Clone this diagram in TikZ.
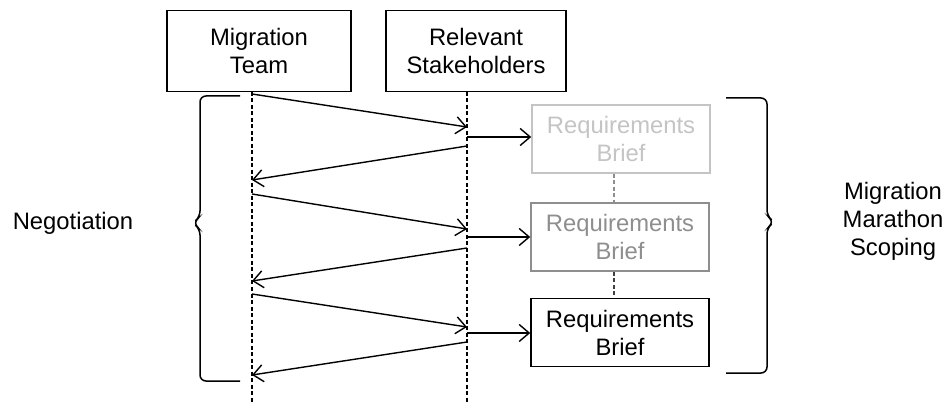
\documentclass[tikz,border=0pt]{standalone}
\usepackage{fontspec}
\setmainfont{Liberation Sans}
\usetikzlibrary{arrows.meta}
\definecolor{lightg}{HTML}{C4C4C4}
\definecolor{midg}{HTML}{8E8E8E}
\begin{document}
\begin{tikzpicture}[x=1pt,y=-1pt,
  font=\fontsize{23.8}{28}\selectfont,
  box/.style={draw, line width=1.5pt, align=center, inner sep=0pt},
  head/.style={box, minimum height=81pt},
  brief/.style={box, minimum width=178pt, minimum height=68pt},
  life/.style={line width=1.2pt, dash pattern=on 4pt off 2.5pt},
  msg/.style={line width=1.4pt, -{Straight Barb[length=10pt,width=17pt,line width=1.4pt]}},
  brace/.style={line width=1.5pt, rounded corners=6pt},
  label/.style={align=center}]
\useasboundingbox (0,0) rectangle (947,403);
% headers
\node[head, minimum width=184pt] (mt) at (259,51) {Migration\\Team};
\node[head, minimum width=180pt] (rs) at (476,51) {Relevant\\Stakeholders};
% lifelines
\coordinate (mtt) at (252,92);
\coordinate (mtb) at (252,403);
\coordinate (rst) at (467,92);
\coordinate (rsb) at (467,403);
\draw[life] (mtt) -- (mtb);
\draw[life] (rst) -- (rsb);
% briefs
\node[brief, draw=lightg, text=lightg] (b1) at (621,139) {Requirements\\Brief};
\node[brief, draw=midg, text=midg] (b2) at (620,237) {Requirements\\Brief};
\node[brief] (b3) at (620,332.5) {Requirements\\Brief};
\draw[line width=1.2pt, dash pattern=on 4pt off 2.5pt, draw=midg] (b1.south -| 614,0) -- (b2.north -| 614,0);
\draw[line width=1.2pt, dash pattern=on 4pt off 2.5pt, draw=black!75] (b2.south -| 614,0) -- (b3.north -| 614,0);
% message points
\coordinate (m1s) at (252,94);  \coordinate (m1e) at (467,127);
\coordinate (m2s) at (467,146); \coordinate (m2e) at (252,180);
\coordinate (m3s) at (252,194); \coordinate (m3e) at (467,229);
\coordinate (m4s) at (467,248); \coordinate (m4e) at (252,281);
\coordinate (m5s) at (252,294); \coordinate (m5e) at (467,327);
\coordinate (m6s) at (467,342); \coordinate (m6e) at (252,375);
\coordinate (s1) at (467,137);
\coordinate (s2) at (467,237);
\coordinate (s3) at (467,333);
\draw[msg] (m1s) -- (m1e);
\draw[msg] (m2s) -- (m2e);
\draw[msg] (m3s) -- (m3e);
\draw[msg] (m4s) -- (m4e);
\draw[msg] (m5s) -- (m5e);
\draw[msg] (m6s) -- (m6e);
\draw[msg] (s1) -- (s1 -| b1.west);
\draw[msg] (s2) -- (s2 -| b2.west);
\draw[msg] (s3) -- (s3 -| b3.west);
% braces
\draw[brace] (240,96) -- (200,96) -- (200,217) -- (193,223) -- (200,229) -- (200,381) -- (240,381);
\draw[brace] (726,98) -- (767,98) -- (767,216) -- (774,222) -- (767,228) -- (767,373) -- (726,373);
% labels
\node[label] (neg) at (73,223) {Negotiation};
\node[label] (mms) at (893,221) {Migration\\Marathon\\Scoping};
\end{tikzpicture}
\end{document}
